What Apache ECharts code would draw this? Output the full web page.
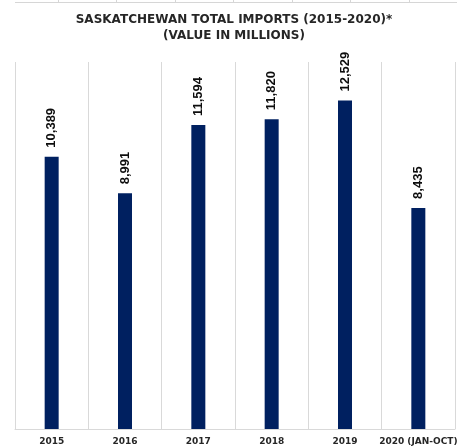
<!DOCTYPE html>
<html>
<head>
<meta charset="utf-8">
<script src="https://cdn.jsdelivr.net/npm/echarts@6/dist/echarts.min.js"></script>
<style>
  html, body { margin: 0; padding: 0; background: #fff; }
  #chart { width: 457px; height: 448px; }
</style>
</head>
<body>
<div id="chart"></div>
<script>
// Saskatchewan total imports, value in millions
var years = ['2015', '2016', '2017', '2018', '2019', '2020 (JAN-OCT)'];
var imports = [10389, 8991, 11594, 11820, 12529, 8435];

var chartDom = document.getElementById('chart');
var myChart = echarts.init(chartDom);
var option;

// spreadsheet cell borders peeking in at the top
var cellCols = [58, 116, 175, 233, 292, 350, 409];
var topBorder = [{
  type: 'line',
  shape: { x1: 15, y1: 2.5, x2: 457, y2: 2.5 },
  style: { stroke: '#d6d6d6', lineWidth: 1 }
}];
cellCols.forEach(function (x) {
  topBorder.push({
    type: 'line',
    shape: { x1: x + 0.5, y1: 0, x2: x + 0.5, y2: 2 },
    style: { stroke: '#d6d6d6', lineWidth: 1 }
  });
});

option = {
  animation: false,
  title: {
    text: 'SASKATCHEWAN TOTAL IMPORTS (2015-2020)*\n(VALUE IN MILLIONS)',
    left: 234,
    textAlign: 'center',
    top: 12,
    padding: 0,
    textStyle: {
      fontFamily: 'DejaVu Sans',
      fontWeight: 'bold',
      fontSize: 12,
      lineHeight: 16,
      color: '#262626'
    }
  },
  graphic: topBorder,
  grid: {
    left: 15,
    right: 2,
    top: 62,
    bottom: 19,
    containLabel: false,
    outerBoundsMode: 'none'
  },
  xAxis: {
    type: 'category',
    data: years,
    axisLine: { show: true, lineStyle: { color: '#d9d9d9', width: 1 } },
    axisTick: { show: false },
    splitLine: { show: true, interval: 0, lineStyle: { color: '#d9d9d9', width: 1 } },
    axisLabel: {
      interval: 0,
      margin: 8,
      fontFamily: 'DejaVu Sans',
      fontWeight: 'bold',
      fontSize: 9,
      color: '#262626'
    }
  },
  yAxis: {
    type: 'value',
    min: 0,
    max: 14000,
    show: false,
    splitLine: { show: false }
  },
  series: [
    {
      type: 'bar',
      data: imports,
      barWidth: 14,
      itemStyle: { color: '#002060' },
      label: {
        show: true,
        position: 'top',
        rotate: 90,
        align: 'left',
        verticalAlign: 'middle',
        distance: 9,
        fontFamily: 'Liberation Sans',
        fontWeight: 'bold',
        fontSize: 13,
        color: '#0d0d0d',
        formatter: function (p) {
          return p.value.toLocaleString('en-US');
        }
      }
    }
  ]
};

option && myChart.setOption(option);
</script>
</body>
</html>
